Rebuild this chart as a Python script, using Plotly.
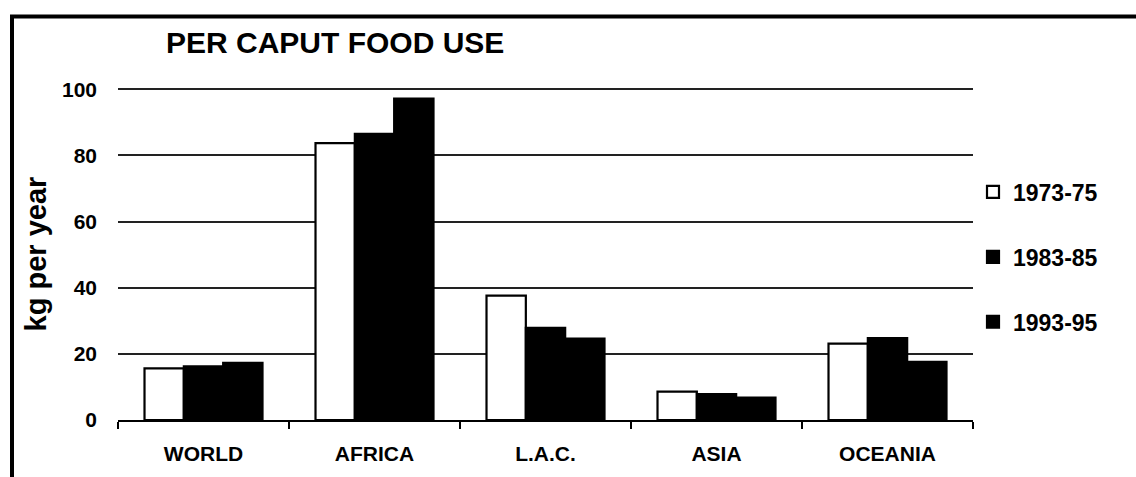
import plotly.graph_objects as go

# Per caput food use, kg per year
regions = ["WORLD", "AFRICA", "L.A.C.", "ASIA", "OCEANIA"]
periods = ["1973-75", "1983-85", "1993-95"]
use_1973_75 = [15.6, 83.7, 37.6, 8.6, 23.1]
use_1983_85 = [16.2, 86.5, 27.9, 7.8, 24.8]
use_1993_95 = [17.3, 97.2, 24.6, 6.8, 17.6]
y_ticks = [0, 20, 40, 60, 80, 100]

series = [use_1973_75, use_1983_85, use_1993_95]
fills = ["white", "black", "black"]

FONT = "Arial, Liberation Sans, Helvetica, sans-serif"

fig = go.Figure()
for name, vals, fill in zip(periods, series, fills):
    fig.add_trace(go.Bar(
        x=regions, y=vals, name=name, legendgroup=name,
        marker=dict(color=fill, line=dict(color="black", width=2.2)),
    ))

PLOT_W = 1136 - 118 - 163
PLOT_H = 477 - 88 - 55

fig.update_layout(
    width=1136, height=477,
    margin=dict(l=118, r=163, t=88, b=55),
    paper_bgcolor="white", plot_bgcolor="white",
    barmode="group", bargap=0.31, bargroupgap=0,
    font=dict(family=FONT, color="black"),
    showlegend=True,
    legend=dict(
        x=1.0, xanchor="left", y=1 - (171 - 88) / PLOT_H, yanchor="top",
        font=dict(size=23, family=FONT, weight="bold"),
        tracegroupgap=32, itemwidth=30,
        bgcolor="rgba(0,0,0,0)",
    ),
    annotations=[dict(
        text="<b>PER CAPUT FOOD USE</b>", xref="paper", yref="paper",
        x=(164 - 118) / PLOT_W, y=1.0, xanchor="left", yanchor="middle",
        yshift=46, showarrow=False, font=dict(size=30, family=FONT),
    )],
    shapes=[dict(
        type="rect", xref="paper", yref="paper",
        x0=-(118 - 12) / PLOT_W, x1=1.3, y0=-0.5, y1=1 + (88 - 16) / PLOT_H,
        line=dict(color="black", width=4), fillcolor="rgba(0,0,0,0)", layer="below",
    )],
)

fig.update_xaxes(
    type="category", tickson="boundaries", ticks="outside", ticklen=7,
    tickwidth=1.5, tickcolor="black", showline=True, linecolor="black",
    linewidth=1.5, showgrid=False, ticklabelstandoff=14,
    tickfont=dict(size=21, family=FONT, weight="bold"),
)
fig.update_yaxes(
    range=[0, 100.4], tickvals=y_ticks, showgrid=True, gridcolor="#222",
    gridwidth=1.5, zeroline=False, showline=False, ticks="",
    tickfont=dict(size=21, family=FONT, weight="bold"), ticklabelstandoff=20,
    title=dict(text="<b>kg per year</b>", font=dict(size=29, family=FONT), standoff=6),
)

fig.write_html("out.html")
